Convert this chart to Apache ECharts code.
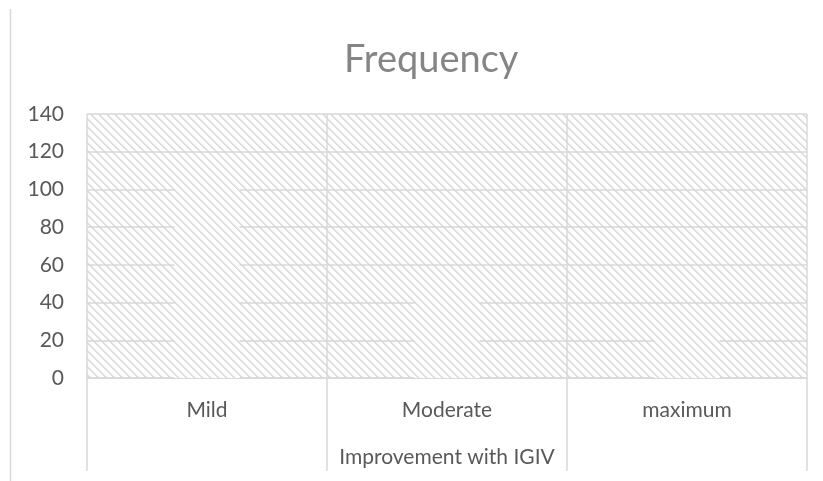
<!DOCTYPE html>
<html>
<head>
<meta charset="utf-8">
<script src="https://cdn.jsdelivr.net/npm/echarts@6/dist/echarts.min.js"></script>
<style>html,body{margin:0;padding:0;background:#fff}#c{width:823px;height:481px}</style>
</head>
<body>
<div id="c"></div>
<script>
const categories = ['Mild', 'Moderate', 'maximum'];
const frequency = [112, 52, 27];
const yTicks = { min: 0, max: 140, interval: 20 };

function hatch() {
  const s = 8;
  const cv = document.createElement('canvas');
  cv.width = s; cv.height = s;
  const ctx = cv.getContext('2d');
  ctx.fillStyle = '#ffffff';
  ctx.fillRect(0, 0, s, s);
  for (let y = 0; y < s; y++) {
    for (let x = 0; x < s; x++) {
      const d = ((x - y) % s + s) % s;
      let c = null;
      if (d === 0) c = '#dadada';
      else if (d === 1) c = '#e2e2e2';
      else if (d === 2) c = '#f0f0f0';
      if (c) { ctx.fillStyle = c; ctx.fillRect(x, y, 1, 1); }
    }
  }
  return cv;
}
const pat = { image: hatch(), repeat: 'repeat' };
const font = 'Lato, "Open Sans", sans-serif';

const chart = echarts.init(document.getElementById('c'), null, { renderer: 'canvas' });
chart.setOption({
  animation: false,
  backgroundColor: '#ffffff',
  title: {
    text: 'Frequency', left: 339, top: 36,
    textStyle: { fontFamily: font, fontSize: 38, fontWeight: 'normal', color: '#858585' }
  },
  grid: {
    left: 87, right: 16, top: 114, bottom: 103, show: true,
    backgroundColor: pat, borderWidth: 0
  },
  xAxis: {
    type: 'category', data: categories,
    axisLine: { show: true, lineStyle: { color: '#d9d9d9', width: 1.5 } },
    axisTick: { show: true, length: 93, lineStyle: { color: '#d9d9d9', width: 1.5 } },
    axisLabel: { margin: 22, fontFamily: font, fontSize: 21, color: '#595959' },
    splitLine: { show: true, lineStyle: { color: '#d9d9d9', width: 1.5 } },
    name: 'Improvement with IGIV', nameLocation: 'middle', nameGap: 69,
    nameTextStyle: { fontFamily: font, fontSize: 21, color: '#595959', verticalAlign: 'top' }
  },
  yAxis: {
    type: 'value', min: yTicks.min, max: yTicks.max, interval: yTicks.interval,
    axisLine: { show: false }, axisTick: { show: false },
    axisLabel: { margin: 23, fontFamily: font, fontSize: 21, color: '#595959' },
    splitLine: { lineStyle: { color: '#d9d9d9', width: 1.5 } }
  },
  series: [{
    type: 'bar', data: frequency, barWidth: 65,
    itemStyle: { color: pat }
  }],
  graphic: [{
    type: 'line', shape: { x1: 10.5, y1: 9, x2: 10.5, y2: 481 },
    style: { stroke: '#d9d9d9', lineWidth: 1.5 }, silent: true
  }]
});
</script>
</body>
</html>
